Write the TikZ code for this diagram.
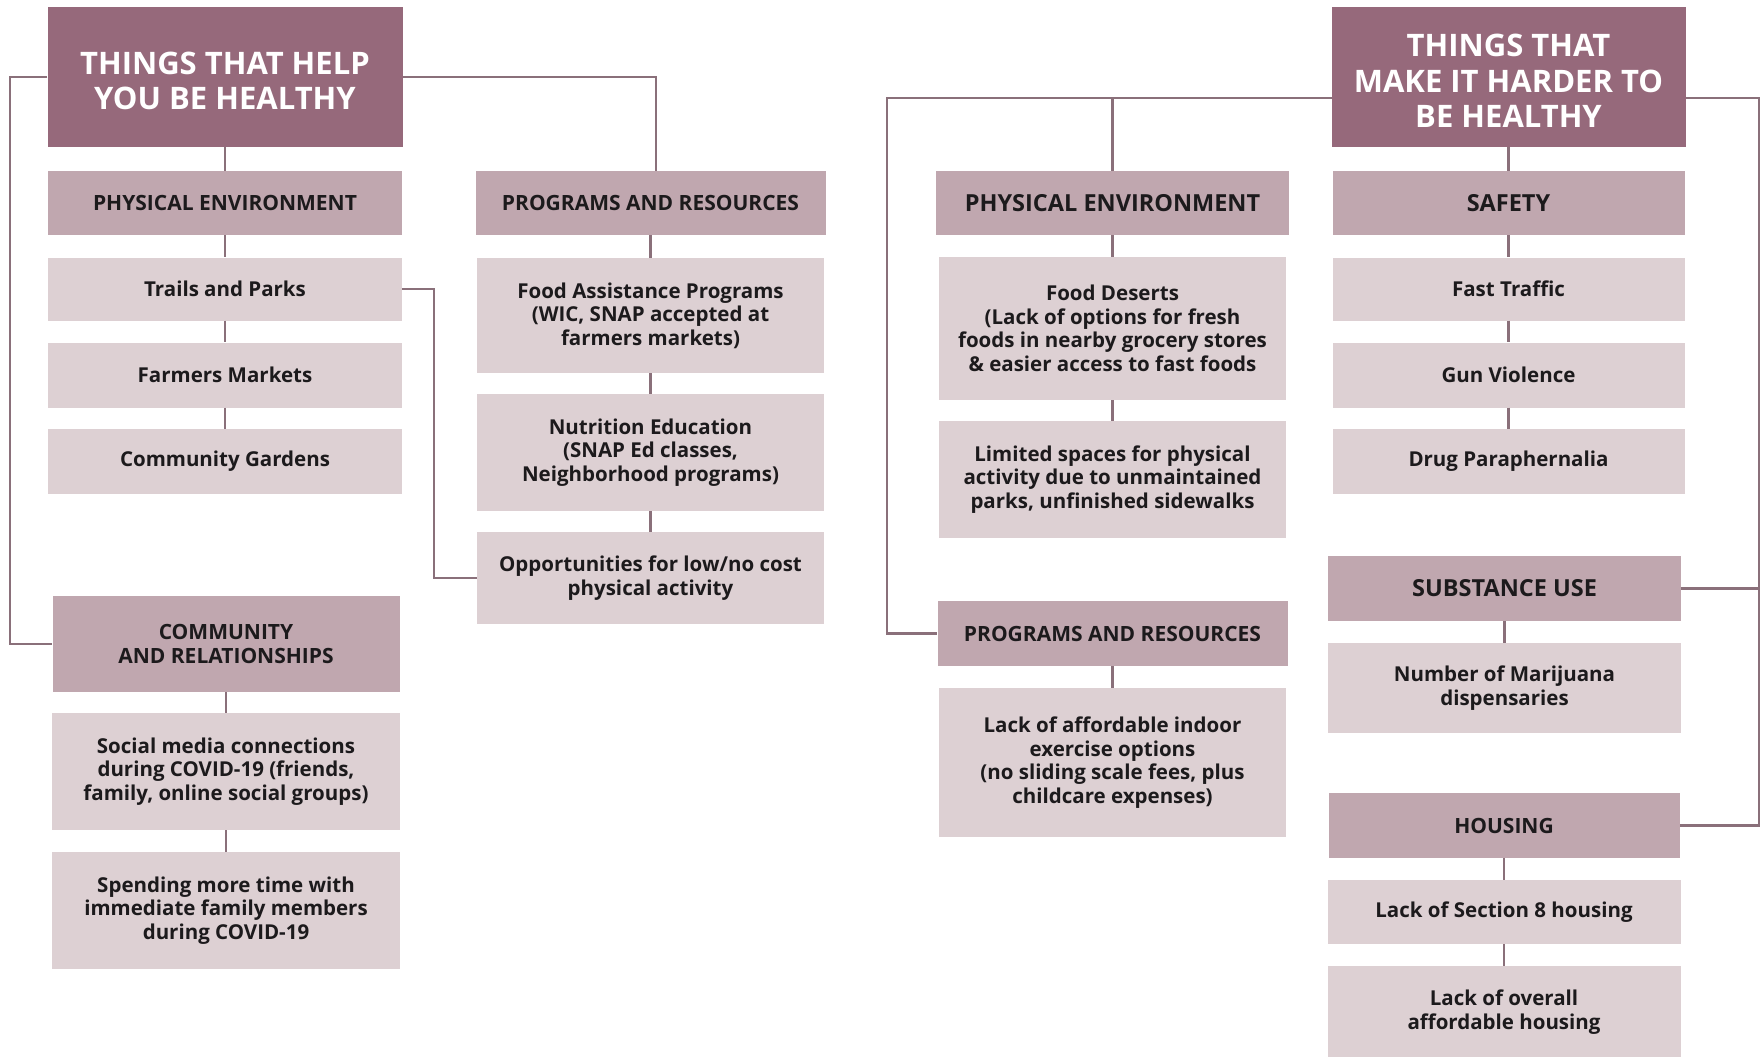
\documentclass[tikz,border=0pt]{standalone}
\usepackage{fontspec}
\setmainfont{Open Sans}
\definecolor{hdr}{RGB}{150,105,123}
\definecolor{sub}{RGB}{192,167,175}
\definecolor{itm}{RGB}{221,208,211}
\definecolor{lnc}{RGB}{138,112,122}
\definecolor{txt}{RGB}{28,26,28}
\newcommand{\hdrtext}[1]{\raisebox{-8pt}[\height][\depth]{\begin{tabular}{@{}c@{}}#1\end{tabular}}}
\begin{document}
\begin{tikzpicture}[x=1pt,y=-1pt,
  box/.style={rectangle,inner sep=0pt,align=center,font=\bfseries},
  hbox/.style={box,fill=hdr,text=white,font=\fontsize{31}{35.5}\selectfont\bfseries},
  sbox/.style={box,fill=sub,text=txt,font=\fontsize{21}{24}\selectfont\bfseries},
  sboxL/.style={box,fill=sub,text=txt,font=\fontsize{23.5}{26}\selectfont\bfseries},
  ibox/.style={box,fill=itm,text=txt,font=\fontsize{20.5}{23.5}\selectfont\bfseries},
  conn/.style={draw=lnc,line width=2.2pt}]
\useasboundingbox (0,0) rectangle (1762,1057);
\fill[white] (0,0) rectangle (1762,1057);
% ---------- left half ----------
\node[hbox,minimum width=355,minimum height=139] (h1) at (225,77) {\hdrtext{THINGS THAT HELP\\YOU BE HEALTHY}};
\node[sbox,minimum width=354,minimum height=64] (lpe) at (225,203) {PHYSICAL ENVIRONMENT};
\node[ibox,minimum width=354,minimum height=63] (tp) at (225,289) {Trails and Parks};
\node[ibox,minimum width=354,minimum height=65] (fm) at (225,375) {Farmers Markets};
\node[ibox,minimum width=354,minimum height=65] (cg) at (225,461.5) {Community Gardens};
\node[sbox,minimum width=350,minimum height=64] (lpr) at (650.5,203) {PROGRAMS AND RESOURCES};
\node[ibox,minimum width=347,minimum height=115] (fa) at (650.5,315.5) {Food Assistance Programs\\(WIC, SNAP accepted at\\farmers markets)};
\node[ibox,minimum width=347,minimum height=117] (ne) at (650.5,452.5) {Nutrition Education\\(SNAP Ed classes,\\Neighborhood programs)};
\node[ibox,minimum width=347,minimum height=92] (op) at (650.5,578) {Opportunities for low/no cost\\physical activity};
\node[sbox,minimum width=347,minimum height=96] (cr) at (226,644) {COMMUNITY\\AND RELATIONSHIPS};
\node[ibox,minimum width=348,minimum height=117] (sm) at (226,771.5) {Social media connections\\during COVID-19 (friends,\\family, online social groups)};
\node[ibox,minimum width=348,minimum height=117] (sp) at (226,910.5) {Spending more time with\\immediate family members\\during COVID-19};
% ---------- right half ----------
\node[hbox,minimum width=354,minimum height=139] (h2) at (1508.5,77) {\hdrtext{THINGS THAT\\MAKE IT HARDER TO\\BE HEALTHY}};
\node[sboxL,minimum width=353,minimum height=64] (rpe) at (1112.5,203) {PHYSICAL ENVIRONMENT};
\node[ibox,minimum width=347,minimum height=143] (fd) at (1112.5,328.5) {Food Deserts\\(Lack of options for fresh\\foods in nearby grocery stores\\\& easier access to fast foods};
\node[ibox,minimum width=347,minimum height=117] (ls) at (1112.5,479.5) {Limited spaces for physical\\activity due to unmaintained\\parks, unfinished sidewalks};
\node[sbox,minimum width=350,minimum height=65] (rpr) at (1112.5,633.5) {PROGRAMS AND RESOURCES};
\node[ibox,minimum width=347,minimum height=149] (la) at (1112.5,762.5) {Lack of affordable indoor\\exercise options\\(no sliding scale fees, plus\\childcare expenses)};
\node[sboxL,minimum width=352,minimum height=64] (sf) at (1508.5,203) {SAFETY};
\node[ibox,minimum width=352,minimum height=63] (ft) at (1508.5,289) {Fast Traffic};
\node[ibox,minimum width=352,minimum height=65] (gv) at (1508.5,375) {Gun Violence};
\node[ibox,minimum width=352,minimum height=65] (dp) at (1508.5,461.5) {Drug Paraphernalia};
\node[sboxL,minimum width=353,minimum height=65] (su) at (1504.5,588.5) {SUBSTANCE USE};
\node[ibox,minimum width=353,minimum height=90] (mj) at (1504.5,688) {Number of Marijuana\\dispensaries};
\node[sbox,minimum width=351,minimum height=65] (ho) at (1504,825.5) {HOUSING};
\node[ibox,minimum width=353,minimum height=64] (s8) at (1504,912) {Lack of Section 8 housing};
\node[ibox,minimum width=353,minimum height=92] (lo) at (1504,1012) {Lack of overall\\affordable housing};
% ---------- connector corners ----------
\coordinate (cL) at (10,77);
\coordinate (cR) at (656,77);
\coordinate (cT) at (434,289);
\coordinate (r0) at (1332,98);
\coordinate (rL) at (887,98);
\coordinate (r1) at (1686,98);
\coordinate (rR) at (1759,98);
% ---------- connectors ----------
\draw[conn] (h1.west) -- (cL) |- (cr.west);
\draw[conn] (h1.east) -- (cR) -- (cR |- lpr.north);
\draw[conn] (h1.south) -- (lpe.north);
\draw[conn] (lpe.south) -- (tp.north);
\draw[conn] (tp.south) -- (fm.north);
\draw[conn] (fm.south) -- (cg.north);
\draw[conn] (tp.east) -- (cT) |- (op.west);
\draw[conn] (lpr.south) -- (fa.north);
\draw[conn] (fa.south) -- (ne.north);
\draw[conn] (ne.south) -- (op.north);
\draw[conn] (cr.south) -- (sm.north);
\draw[conn] (sm.south) -- (sp.north);
\draw[conn] (r0) -- (rL) |- (rpr.west);
\draw[conn] (rpe.north |- r0) -- (rpe.north);
\draw[conn] (rpe.south) -- (fd.north);
\draw[conn] (fd.south) -- (ls.north);
\draw[conn] (rpr.south) -- (la.north);
\draw[conn] (h2.south) -- (sf.north);
\draw[conn] (sf.south) -- (ft.north);
\draw[conn] (ft.south) -- (gv.north);
\draw[conn] (gv.south) -- (dp.north);
\draw[conn] (r1) -- (rR) |- (ho.east);
\draw[conn] (su.east) -- (su.east -| rR);
\draw[conn] (su.south) -- (mj.north);
\draw[conn] (ho.south) -- (s8.north);
\draw[conn] (s8.south) -- (lo.north);
\end{tikzpicture}
\end{document}
